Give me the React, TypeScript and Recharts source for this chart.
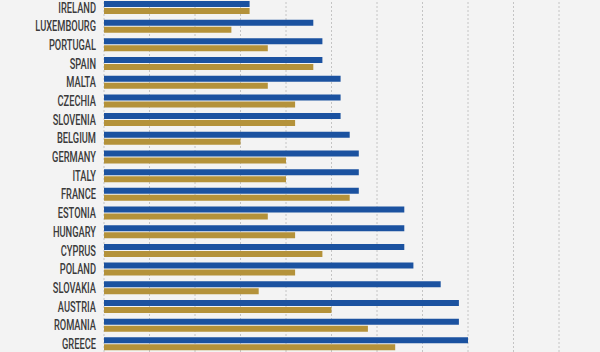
import { BarChart, Bar, XAxis, YAxis, CartesianGrid } from "recharts";

const countries = [
  "IRELAND", "LUXEMBOURG", "PORTUGAL", "SPAIN", "MALTA", "CZECHIA", "SLOVENIA",
  "BELGIUM", "GERMANY", "ITALY", "FRANCE", "ESTONIA", "HUNGARY", "CYPRUS",
  "POLAND", "SLOVAKIA", "AUSTRIA", "ROMANIA", "GREECE",
];
const blueValues = [3.2, 4.6, 4.8, 4.8, 5.2, 5.2, 5.2, 5.4, 5.6, 5.6, 5.6, 6.6, 6.6, 6.6, 6.8, 7.4, 7.8, 7.8, 8.0];
const goldValues = [3.2, 2.8, 3.6, 4.6, 3.6, 4.2, 4.2, 3.0, 4.0, 4.0, 5.4, 3.6, 4.2, 4.8, 4.2, 3.4, 5.0, 5.8, 6.4];
const xTicks = [0, 1, 2, 3, 4, 5, 6, 7, 8, 9, 10];
const bandTicks = countries.map((_, i) => i).concat(countries.length);

const data = countries.map((name, i) => ({
  name,
  blue: blueValues[i],
  gold: goldValues[i],
}));

// condensed label look: squeeze a regular sans horizontally
const CountryTick = (props: any) => {
  const { x, y, payload } = props;
  return (
    <g transform={`translate(${x},${y})`}>
      <text
        x={0}
        y={0}
        dy={5.3}
        textAnchor="end"
        transform="scale(0.62,1)"
        fontFamily="Roboto, 'Liberation Sans', sans-serif"
        fontWeight={500}
        fontSize={15}
        fill="#3a3a3a"
      >
        {payload.value}
      </text>
    </g>
  );
};

export default function App() {
  return (
    <div style={{ width: 600, height: 352, overflow: "hidden", position: "relative", background: "#f3f3f3" }}>
      <style>{"body{margin:0}"}</style>
      <div style={{ position: "absolute", top: -1.7, left: 0 }}>
        <BarChart
          width={600}
          height={355}
          data={data}
          layout="vertical"
          margin={{ top: 0, right: 41, bottom: 0, left: 0 }}
          barSize={6}
          barGap={1}
        >
          <CartesianGrid
            yAxisId="bands"
            vertical={false}
            stroke="#d6d6d6"
          />
          <CartesianGrid
            yAxisId="bands"
            horizontal={false}
            stroke="#c4c4c4"
            strokeDasharray="2 2"
          />
          <XAxis type="number" domain={[0, 10]} ticks={xTicks} hide />
          <YAxis
            yAxisId="bands"
            type="number"
            domain={[0, countries.length]}
            ticks={bandTicks}
            width={0}
            axisLine={false}
            tick={false}
            tickSize={7}
            tickLine={{ stroke: "#b8b8b8" }}
          />
          <YAxis
            yAxisId="cat"
            type="category"
            dataKey="name"
            width={104}
            axisLine={false}
            tickLine={false}
            tickSize={0}
            tickMargin={8}
            interval={0}
            tick={<CountryTick />}
          />
          <Bar yAxisId="cat" dataKey="blue" fill="#1b52a0" isAnimationActive={false} />
          <Bar yAxisId="cat" dataKey="gold" fill="#b4923a" isAnimationActive={false} />
        </BarChart>
      </div>
    </div>
  );
}
